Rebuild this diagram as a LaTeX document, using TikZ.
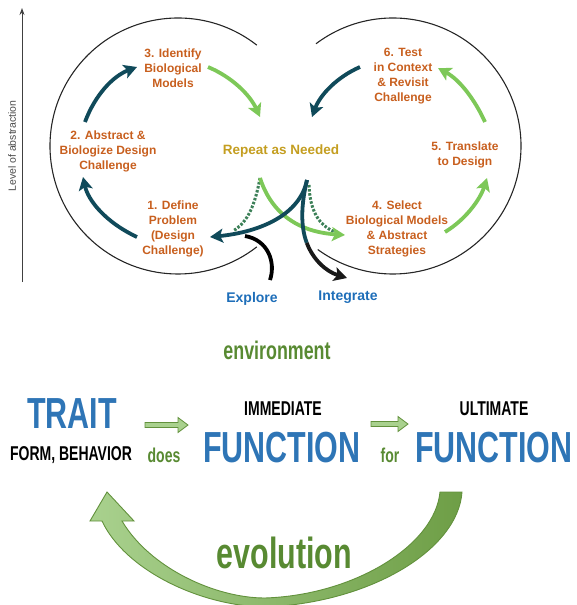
\documentclass[tikz,border=0pt]{standalone}
\usepackage{fontspec}
\setmainfont{Liberation Sans}
\newfontfamily\condb[FakeStretch=0.7]{Liberation Sans Bold}
\usetikzlibrary{arrows.meta}
\definecolor{orng}{RGB}{200,95,30}
\definecolor{gold}{RGB}{196,158,32}
\definecolor{teal}{RGB}{16,74,90}
\definecolor{lgreen}{RGB}{125,200,88}
\definecolor{dgreen}{RGB}{60,128,88}
\definecolor{tblue}{RGB}{30,110,185}
\definecolor{bblue}{RGB}{46,117,182}
\definecolor{egreen}{RGB}{88,138,50}
\definecolor{afill}{RGB}{169,209,142}
\definecolor{afill2}{RGB}{110,158,70}
\definecolor{aline}{RGB}{98,145,60}
\begin{document}
\begin{tikzpicture}[x=1pt,y=-1pt,
  steplbl/.style={text=orng,font=\bfseries\fontsize{12}{15}\selectfont,align=center,inner sep=0pt},
  thk/.style={line width=3.8pt,-{Stealth[length=13pt,width=14pt,inset=3pt]}},
  dsh/.style={line width=3pt,dgreen,dash pattern=on 2.5pt off 1.6pt},
  bigtxt/.style={text=bblue,font=\condb\fontsize{43.5}{44}\selectfont,inner sep=0pt,anchor=base},
  captxt/.style={font=\condb\fontsize{20}{22}\selectfont,inner sep=0pt,anchor=base},
  flatarrow/.style={fill=afill,draw=aline,line width=0.8pt,line join=miter}]
\useasboundingbox (0,0) rectangle (576,605);
\clip (0,0) rectangle (576,605);
% axis
\coordinate (axb) at (22,282);
\coordinate (axt) at (22,8);
\draw[line width=0.9pt,black!75,-{Stealth[length=7pt,width=5pt]}] (axb) -- (axt);
\node[rotate=90,text=black!70,font=\fontsize{10.5}{12}\selectfont] (lvl) at (12,146) {Level of abstraction};
% circles
\coordinate (cl) at (178,146);
\coordinate (cr) at (393,146);
\draw[line width=1.1pt,black!85] (cl) ++(-52:128) arc[start angle=-52,end angle=-308,radius=128];
\draw[line width=1.1pt,black!85] (cr) ++(-127:128) arc[start angle=-127,end angle=126,radius=128];
% labels
\node[steplbl] (n3) at (173,68) {3. Identify\\Biological\\Models};
\node[steplbl] (n2) at (108,151) {2. Abstract \&\\Biologize Design\\Challenge};
\node[steplbl] (n1) at (173,229) {1. Define\\Problem\\(Design\\Challenge)};
\node[steplbl] (n6) at (403,76) {6. Test\\in Context\\\& Revisit\\Challenge};
\node[steplbl] (n5) at (465,155) {5. Translate\\to Design};
\node[steplbl] (n4) at (397,229) {4. Select\\Biological Models\\\& Abstract\\Strategies};
\node[text=gold,font=\bfseries\fontsize{13.5}{15}\selectfont,inner sep=0pt] (rep) at (281,151) {Repeat as Needed};
\node[text=tblue,font=\bfseries\fontsize{14}{16}\selectfont,inner sep=0pt] (explore) at (252,299) {Explore};
\node[text=tblue,font=\bfseries\fontsize{14}{16}\selectfont,inner sep=0pt] (integrate) at (348,297) {Integrate};
% cycle arrows
\coordinate (a1s) at (137,237); \coordinate (a1e) at (83,177);
\coordinate (a2s) at (85,122);  \coordinate (a2e) at (137,67);
\coordinate (a3s) at (208,67);  \coordinate (a3e) at (260,117);
\coordinate (a6s) at (360,67);  \coordinate (a6e) at (312,117);
\coordinate (a5s) at (485,122); \coordinate (a5e) at (438,68);
\coordinate (a4s) at (445,232); \coordinate (a4e) at (487,178);
\draw[thk,teal] (a1s) .. controls (105,222) and (88,200) .. (a1e);
\draw[thk,teal] (a2s) .. controls (95,95) and (113,76) .. (a2e);
\draw[thk,lgreen] (a3s) .. controls (232,77) and (250,95) .. (a3e);
\draw[thk,teal] (a6s) .. controls (337,77) and (320,95) .. (a6e);
\draw[thk,lgreen] (a5s) .. controls (475,100) and (460,80) .. (a5e);
\draw[thk,lgreen] (a4s) .. controls (465,220) and (480,200) .. (a4e);
% central crossing
\coordinate (ct) at (307,180);
\coordinate (cg) at (260,178);
\coordinate (tl) at (210,237);
\coordinate (tg) at (345,235);
\coordinate (mid) at (306.75,242.9);
\coordinate (ti) at (347,278);
\coordinate (eb) at (270,280);
\coordinate (ej) at (245,236);
\draw[dsh] (cg) .. controls (255,205) and (248,222) .. (233,231);
\draw[dsh] (309,185) .. controls (310,210) and (318,225) .. (335,232);
\draw[thk,lgreen] (cg) .. controls (272,215) and (300,232) .. (tg);
\draw[line width=3.8pt,black] (eb) .. controls (276,262) and (268,240) .. (ej);
\draw[thk,teal] (ct) .. controls (300,215) and (260,232) .. (tl);
\draw[line width=3.8pt,teal] (ct) .. controls (301,205) and (300.5,226.25) .. (mid);
\draw[thk,black!90] (mid) .. controls (313,259.5) and (326,271.5) .. (ti);
% bottom part
\node[text=egreen,font=\condb\fontsize{25.5}{27}\selectfont,inner sep=0pt,anchor=base] (env) at (277,359) {environment};
\node[bigtxt] (trait) at (72,428) {TRAIT};
\node[captxt] (form) at (71,460) {FORM, BEHAVIOR};
\node[captxt,text=egreen] (does) at (164,462) {does};
\node[captxt] (imm) at (283,415) {IMMEDIATE};
\node[bigtxt] (f1) at (282,462) {FUNCTION};
\node[captxt,text=egreen] (for) at (390,462) {for};
\node[captxt] (ult) at (494,415) {ULTIMATE};
\node[bigtxt] (f2) at (494,462) {FUNCTION};
\draw[flatarrow] (145,422.5) -- (178,422.5) -- (178,417.5) -- (188,425) -- (178,432.5) -- (178,427.5) -- (145,427.5) -- cycle;
\draw[flatarrow] (371,421.5) -- (398,421.5) -- (398,416.5) -- (408,424) -- (398,431.5) -- (398,426.5) -- (371,426.5) -- cycle;
% evolution arrow
\draw[draw=aline,line width=0.9pt,left color=afill,right color=afill2,line join=miter]
  (462,492) -- (440,492)
  .. controls (435,545) and (355,595) .. (265,598)
  .. controls (215,598) and (150,568) .. (122,521)
  -- (134,521) -- (107,492) -- (90,521) -- (102,521)
  .. controls (125,570) and (200,606) .. (265,607)
  .. controls (370,603) and (458,550) .. (462,492) -- cycle;
\node[text=egreen,font=\condb\fontsize{43.5}{44}\selectfont,inner sep=0pt,anchor=base] (evo) at (284.5,568) {evolution};
\end{tikzpicture}
\end{document}
